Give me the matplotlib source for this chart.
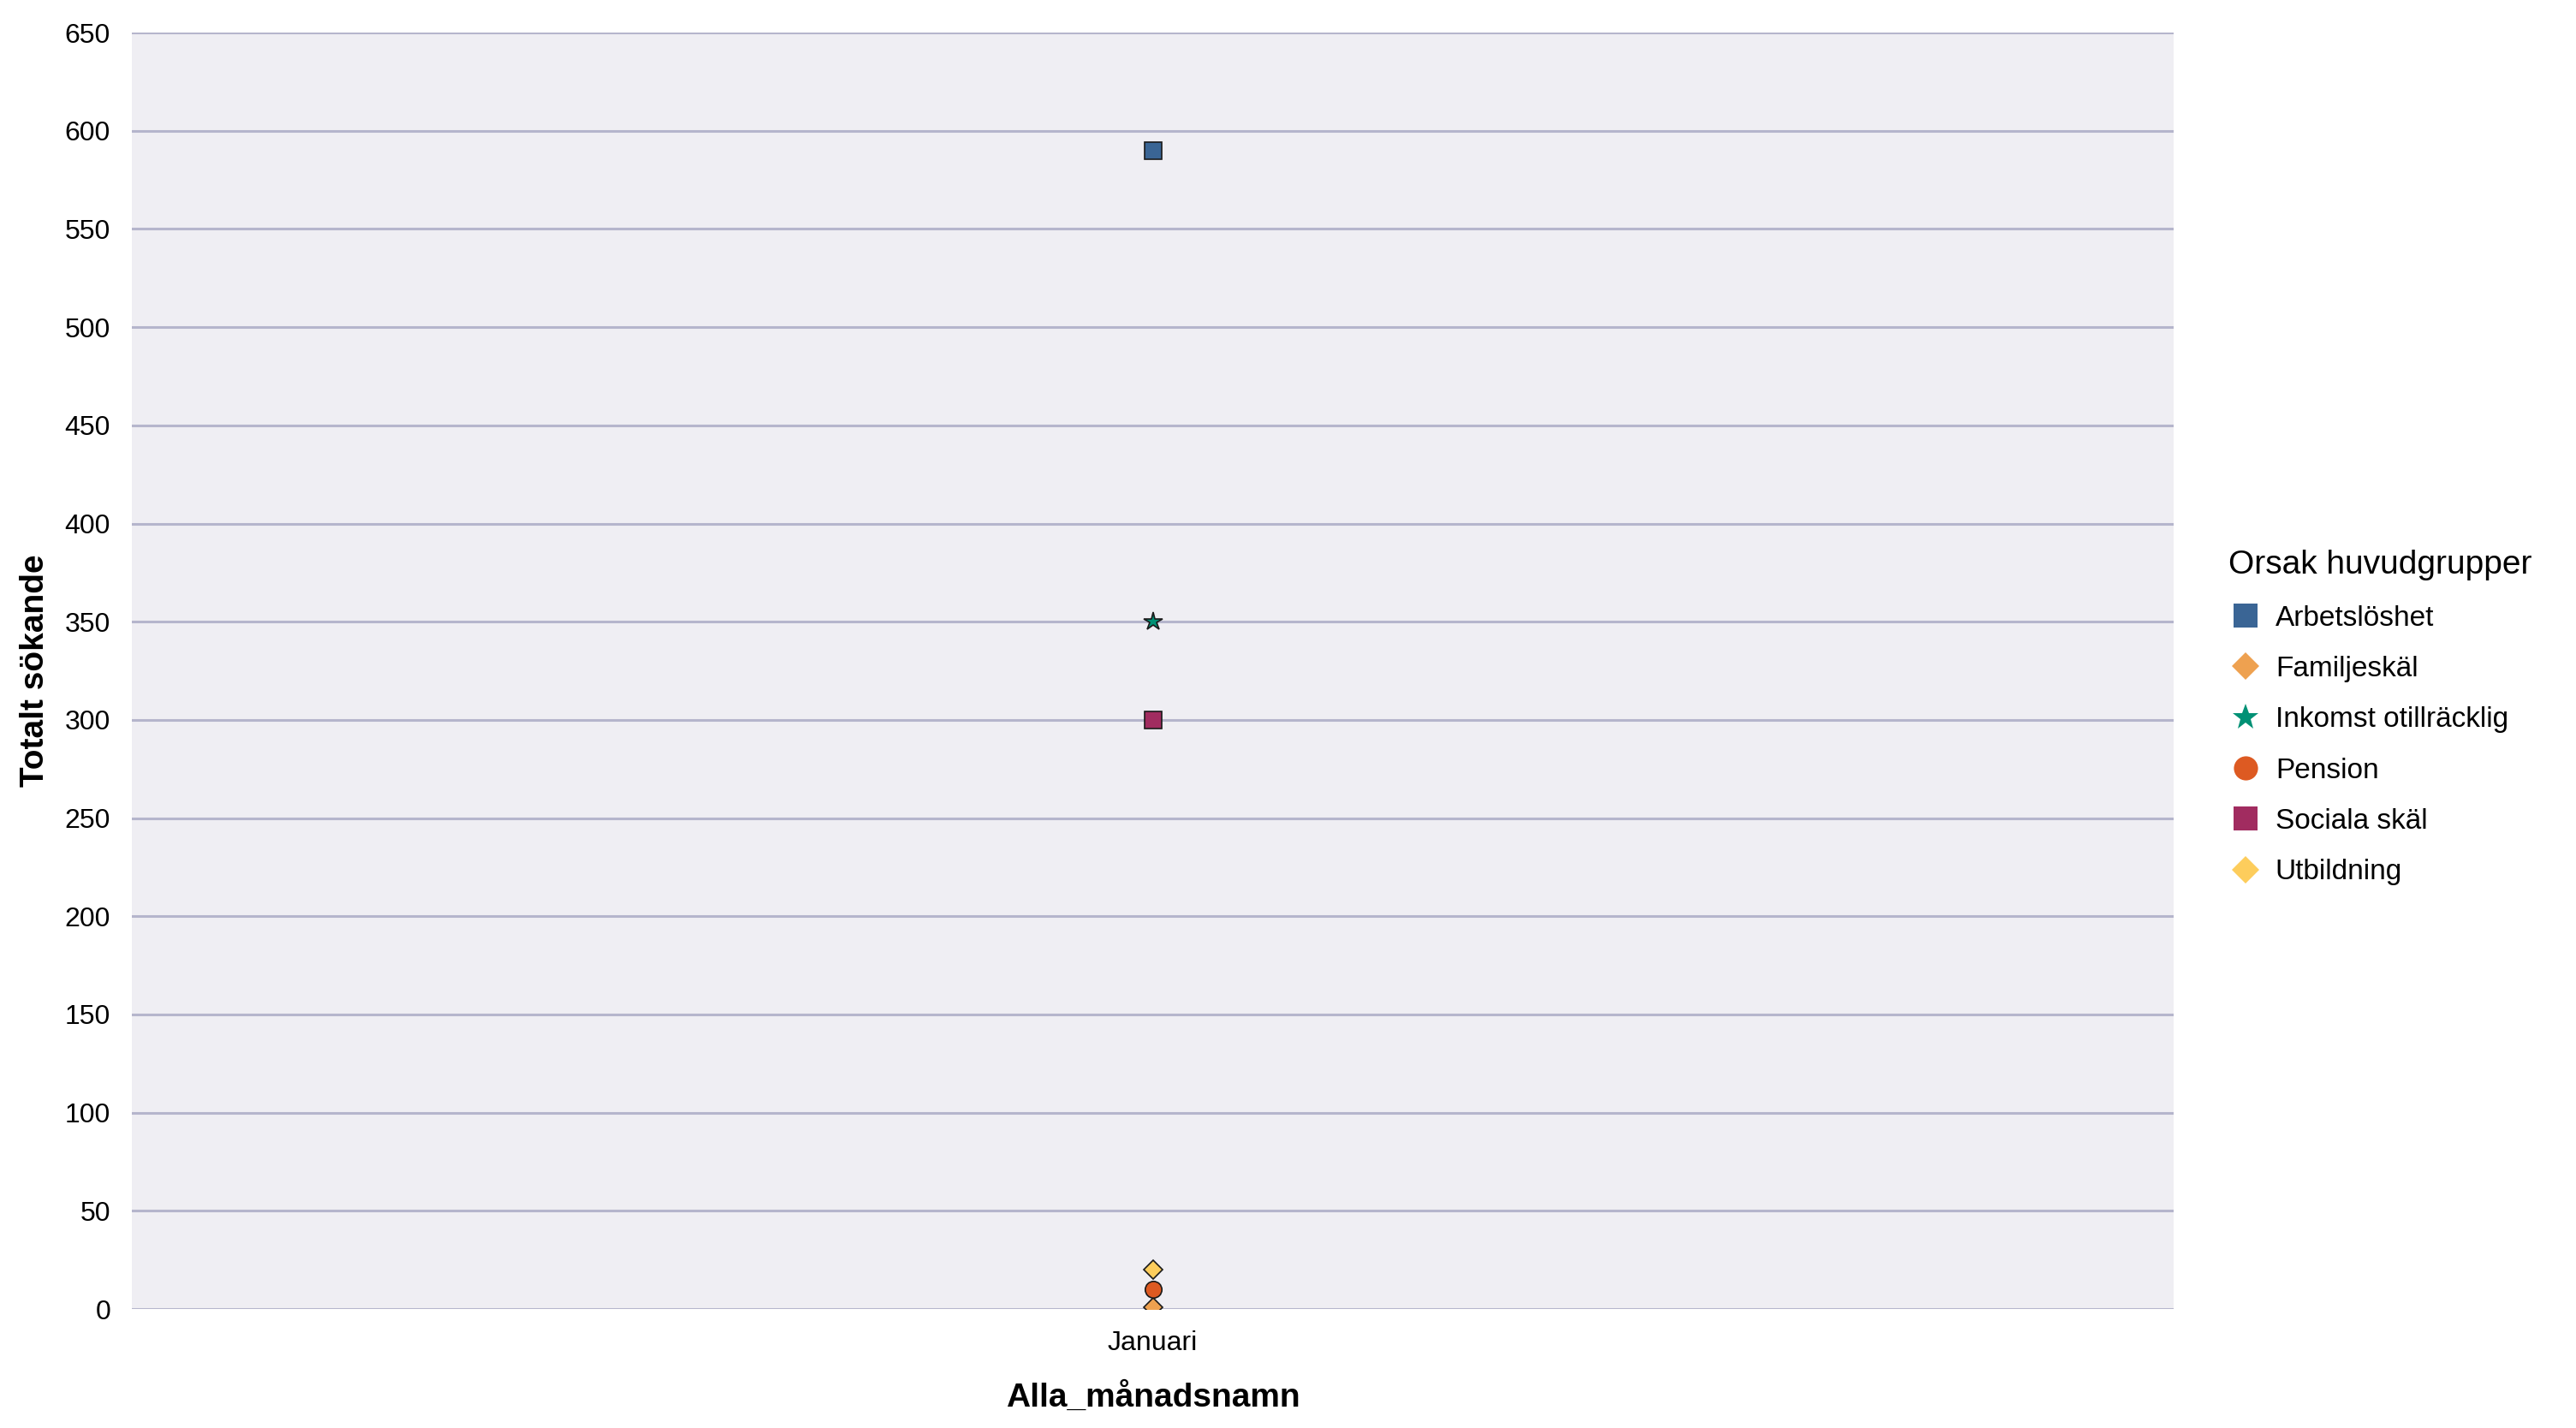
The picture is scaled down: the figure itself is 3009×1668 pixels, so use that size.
import matplotlib.pyplot as plt
from matplotlib.lines import Line2D

plt.rcParams['font.family'] = ['Liberation Sans', 'DejaVu Sans']

months = ["Januari"]
groups = ["Arbetslöshet", "Familjeskäl", "Inkomst otillräcklig",
          "Pension", "Sociala skäl", "Utbildning"]
values = [590, 1, 350, 10, 300, 20]
colors = ["#3a6595", "#eea150", "#009175", "#dd5a22", "#a12c60", "#fdcd5c"]
markers = ["s", "D", "*", "o", "s", "D"]
sizes = [7, 5.5, 8, 7, 7, 5.5]

fig = plt.figure(figsize=(15.045, 8.34), dpi=200)
ax = fig.add_axes([0.0512, 0.0833, 0.7926, 0.8939])
ax.set_facecolor("#efeef3")

handles = []
for g, v, c, m, s in zip(groups, values, colors, markers, sizes):
    ax.plot([0], [v], linestyle="none", marker=m, markersize=s,
            markerfacecolor=c, markeredgecolor="#1a1a1a",
            markeredgewidth=0.6, zorder=3)
    handles.append(Line2D([], [], linestyle="none", marker=m,
                          markersize=s * 1.45, markerfacecolor=c,
                          markeredgewidth=0, label=g))

ax.set_xlim(-0.5, 0.5)
ax.set_xticks([0])
ax.set_xticklabels(months)
ax.set_ylim(0, 650)
ax.set_yticks(range(0, 651, 50))
ax.grid(axis="y", color="#b5b5cc", linewidth=1.1, zorder=1)
ax.set_axisbelow(True)
for sp in ax.spines.values():
    sp.set_visible(False)
ax.tick_params(length=0, labelsize=11.5, pad=9)

ax.set_xlabel("Alla_månadsnamn", fontsize=14, fontweight="bold", labelpad=11)
ax.set_ylabel("Totalt sökande", fontsize=14, fontweight="bold", labelpad=6)

leg = fig.legend(handles=handles, title="Orsak huvudgrupper",
                 loc="center left", bbox_to_anchor=(0.865, 0.4975),
                 frameon=False, fontsize=12, title_fontsize=14,
                 borderpad=0, borderaxespad=0, handletextpad=0.45,
                 labelspacing=0.85, handlelength=1.2)
leg._legend_box.align = "left"

fig.savefig("out.png", dpi=200)
